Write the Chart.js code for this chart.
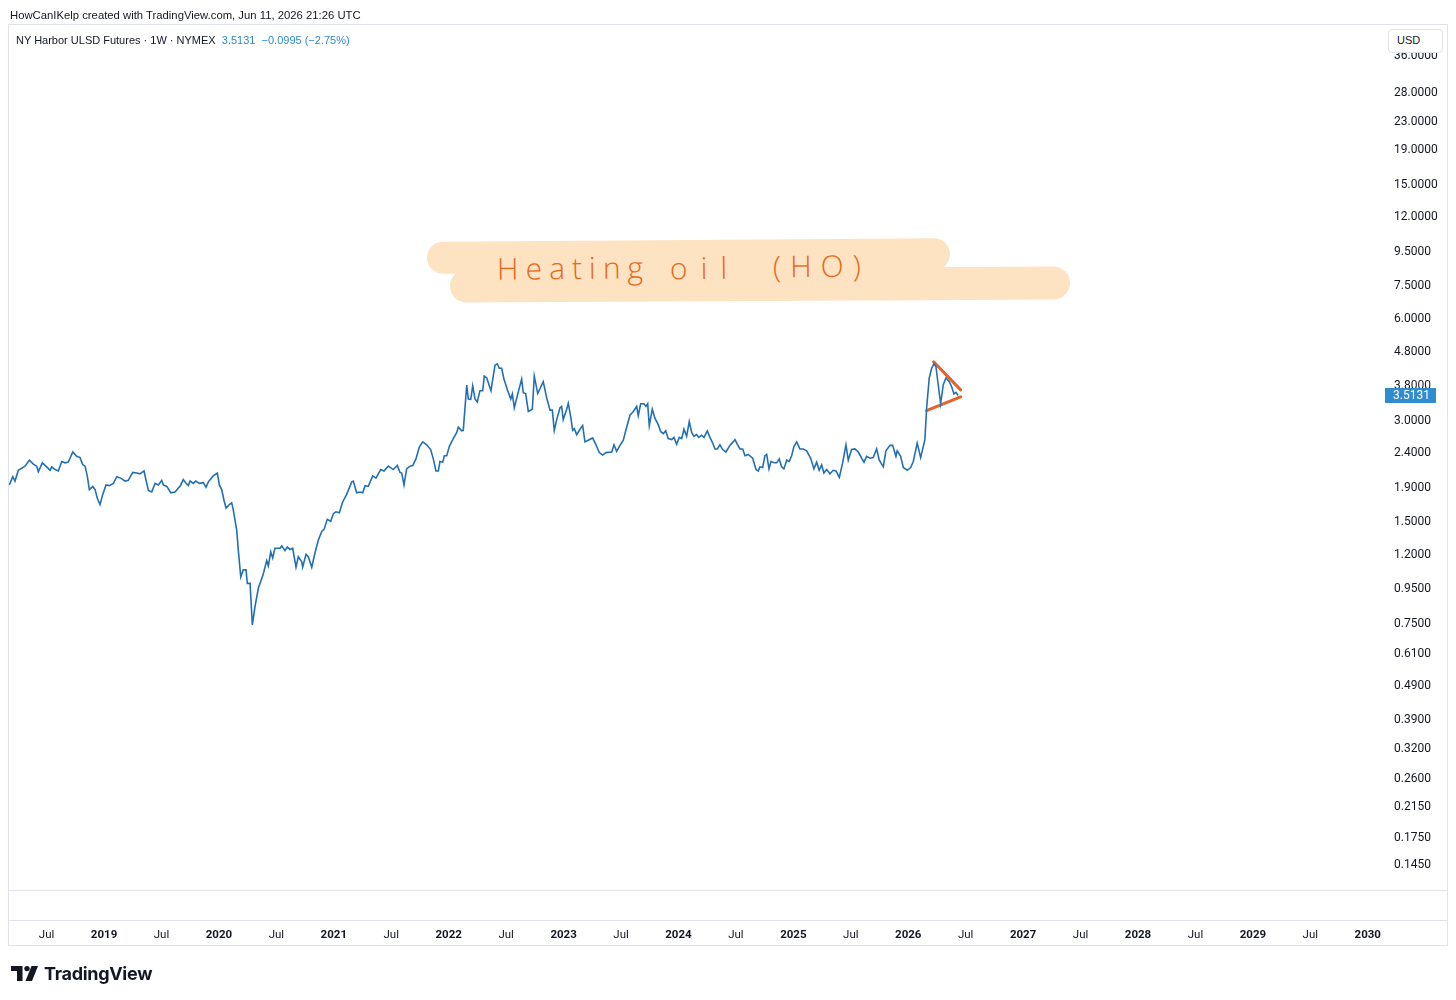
<!DOCTYPE html>
<html>
<head>
<meta charset="utf-8">
<script src="https://cdn.jsdelivr.net/npm/chart.js@4/dist/chart.umd.min.js"></script>
<style>
  html, body { margin:0; padding:0; background:#ffffff; }
  #wrap { position:relative; width:1456px; height:1000px; overflow:hidden; font-family:"Liberation Sans", Arial, sans-serif; color:#131722; }
  #frame { position:absolute; left:8px; top:24px; width:1438px; height:920px; border:1px solid #e0e3eb; box-sizing:content-box; }
  .hline { position:absolute; left:8px; width:1440px; height:1px; background:#e0e3eb; }
  #c { position:absolute; left:0; top:0; }
  #credit { position:absolute; left:10px; top:9px; font-size:11.3px; white-space:nowrap; }
  #title { position:absolute; left:16px; top:34px; font-size:11px; white-space:nowrap; }
  #title .q { color:#2f8bcc; }
  #usd { position:absolute; left:1388px; top:29px; width:55px; height:24px; background:#fff; border:1px solid #e0e3eb; border-radius:4px; font-size:11px; line-height:20px; padding-left:8px; box-sizing:border-box; }
  .hl { position:absolute; background:#fde3c1; border-radius:17px; }
  .note { position:absolute; top:247px; font-family:"Open Sans", sans-serif; font-weight:300; font-size:30px; color:#e8691c; white-space:nowrap; transform:rotate(-0.6deg); }
  #logo { position:absolute; left:11px; top:962px; height:22px; display:flex; align-items:center; }
  #logo span { font-family:"Inter", "Roboto", sans-serif; font-weight:700; font-size:18px; letter-spacing:-0.3px; margin-left:5px; color:#131722; }
</style>
</head>
<body>
<div id="wrap">
  <div id="frame"></div>
  <div class="hline" style="top:890px"></div>
  <div class="hline" style="top:920px"></div>
  <div class="hl" style="left:427px; top:240px; width:523px; height:32px; transform:rotate(-0.4deg);"></div>
  <div class="hl" style="left:450px; top:268px; width:620px; height:33px; transform:rotate(-0.3deg);"></div>
  <div class="note" style="left:497px; letter-spacing:7px;">Heating</div>
  <div class="note" style="left:670px; letter-spacing:13px;">oil</div>
  <div class="note" style="left:773px; letter-spacing:9px; top:245px;">(HO)</div>
  <canvas id="c" width="1456" height="1000"></canvas>
  <div id="credit">HowCanIKelp created with TradingView.com, Jun 11, 2026 21:26 UTC</div>
  <div id="title">NY Harbor ULSD Futures · 1W · NYMEX&nbsp; <span class="q">3.5131&nbsp; −0.0995 (−2.75%)</span></div>
  <div id="usd">USD</div>
  <div id="logo">
    <svg width="28" height="17" viewBox="0 0 28 17">
      <rect x="0" y="1" width="11" height="5" fill="#131722"/>
      <rect x="6" y="1" width="5.5" height="15" fill="#131722"/>
      <circle cx="16" cy="3.6" r="2.7" fill="#131722"/>
      <polygon points="20.5,1 27,1 21,16 14.5,16" fill="#131722"/>
    </svg>
    <span>TradingView</span>
  </div>
</div>
<script>
const times = [
2018.176,2018.205,2018.225,2018.254,2018.312,2018.350,2018.385,2018.414,2018.428,2018.463,
2018.501,2018.530,2018.545,2018.574,2018.602,2018.632,2018.661,2018.689,2018.728,2018.762,
2018.791,2018.815,2018.835,2018.855,2018.872,2018.902,2018.922,2018.942,2018.965,2018.989,
2019.017,2019.046,2019.081,2019.111,2019.145,2019.183,2019.211,2019.250,2019.285,2019.313,
2019.348,2019.366,2019.386,2019.415,2019.444,2019.473,2019.502,2019.516,2019.546,2019.581,
2019.618,2019.647,2019.661,2019.690,2019.714,2019.734,2019.749,2019.777,2019.798,2019.829,
2019.864,2019.888,2019.908,2019.951,2019.986,2020.004,2020.024,2020.044,2020.062,2020.091,
2020.111,2020.125,2020.155,2020.169,2020.190,2020.212,2020.236,2020.247,2020.271,2020.291,
2020.314,2020.343,2020.386,2020.416,2020.430,2020.451,2020.468,2020.488,2020.532,2020.547,
2020.575,2020.595,2020.619,2020.642,2020.671,2020.691,2020.721,2020.729,2020.758,2020.778,
2020.808,2020.836,2020.865,2020.895,2020.915,2020.943,2020.973,2020.996,2021.019,2021.048,
2021.077,2021.112,2021.156,2021.170,2021.199,2021.228,2021.252,2021.272,2021.300,2021.339,
2021.367,2021.408,2021.437,2021.474,2021.518,2021.553,2021.576,2021.591,2021.611,2021.634,
2021.663,2021.687,2021.715,2021.744,2021.774,2021.809,2021.843,2021.866,2021.889,2021.910,
2021.924,2021.948,2021.962,2021.983,2022.005,2022.040,2022.070,2022.084,2022.113,2022.127,
2022.157,2022.171,2022.192,2022.209,2022.229,2022.249,2022.272,2022.296,2022.310,2022.331,
2022.368,2022.403,2022.423,2022.440,2022.461,2022.481,2022.510,2022.540,2022.554,2022.571,
2022.606,2022.635,2022.649,2022.670,2022.693,2022.728,2022.745,2022.775,2022.823,2022.853,
2022.882,2022.902,2022.919,2022.940,2022.969,2022.983,2022.997,2023.027,2023.041,2023.062,
2023.079,2023.093,2023.114,2023.143,2023.166,2023.186,2023.206,2023.253,2023.282,2023.311,
2023.340,2023.369,2023.419,2023.439,2023.462,2023.491,2023.520,2023.549,2023.578,2023.607,
2023.636,2023.650,2023.671,2023.700,2023.717,2023.732,2023.746,2023.772,2023.795,2023.824,
2023.845,2023.868,2023.889,2023.911,2023.941,2023.961,2023.984,2024.007,2024.028,2024.048,
2024.071,2024.094,2024.115,2024.135,2024.158,2024.178,2024.202,2024.222,2024.251,2024.274,
2024.298,2024.318,2024.338,2024.361,2024.385,2024.413,2024.448,2024.492,2024.512,2024.535,
2024.559,2024.579,2024.607,2024.646,2024.675,2024.695,2024.709,2024.733,2024.753,2024.768,
2024.788,2024.805,2024.834,2024.855,2024.877,2024.898,2024.918,2024.942,2024.964,2024.985,
2025.005,2025.029,2025.057,2025.086,2025.116,2025.151,2025.179,2025.203,2025.225,2025.246,
2025.266,2025.290,2025.319,2025.347,2025.371,2025.400,2025.429,2025.458,2025.478,2025.507,
2025.536,2025.565,2025.595,2025.615,2025.638,2025.667,2025.695,2025.725,2025.748,2025.783,
2025.806,2025.841,2025.864,2025.893,2025.904,2025.934,2025.957,2025.991,2026.021,2026.044,
2026.078,2026.108,2026.145,2026.160,2026.183,2026.204,2026.224,2026.241,2026.261,2026.282,
2026.305,2026.328,2026.357,2026.378,2026.398,2026.415,2026.435
];
const prices = [
1.91,2.02,1.96,2.11,2.17,2.26,2.20,2.17,2.09,2.22,
2.16,2.11,2.16,2.12,2.10,2.24,2.22,2.23,2.39,2.32,
2.30,2.19,2.17,2.02,1.85,1.89,1.85,1.74,1.67,1.79,
1.91,1.90,1.93,2.02,2.00,1.96,1.97,2.08,2.07,2.06,
2.10,1.97,1.84,1.82,1.93,1.91,1.97,1.91,1.89,1.81,
1.82,1.87,1.89,1.98,1.93,1.90,1.96,1.93,1.96,1.93,
1.94,1.88,1.95,2.03,2.07,1.91,1.85,1.72,1.63,1.67,
1.69,1.61,1.40,1.22,1.02,1.07,1.07,0.976,0.976,0.735,
0.833,0.944,1.04,1.14,1.10,1.21,1.16,1.24,1.24,1.26,
1.22,1.25,1.23,1.24,1.09,1.17,1.13,1.09,1.19,1.17,
1.09,1.20,1.31,1.39,1.41,1.51,1.49,1.57,1.59,1.58,
1.70,1.79,1.95,1.96,1.81,1.82,1.81,1.90,1.89,2.03,
2.00,2.12,2.10,2.17,2.12,2.18,2.08,2.07,1.91,2.13,
2.17,2.18,2.28,2.47,2.56,2.51,2.43,2.28,2.10,2.10,
2.24,2.23,2.33,2.33,2.48,2.62,2.73,2.83,2.76,2.77,
3.77,3.43,3.42,3.75,3.43,3.36,3.63,3.63,4.01,3.96,
3.63,4.32,4.36,4.23,4.23,3.93,3.66,3.43,3.55,3.23,
3.60,3.93,3.58,3.56,3.15,3.20,4.01,3.56,3.86,3.46,
3.18,3.18,2.77,2.98,3.23,3.26,2.98,3.20,3.33,3.04,
2.77,2.80,2.69,2.79,2.86,2.56,2.58,2.63,2.51,2.38,
2.34,2.38,2.39,2.51,2.40,2.50,2.59,2.83,3.07,3.15,
3.26,3.06,3.32,3.32,3.26,3.32,2.86,3.20,3.01,2.88,
2.75,2.71,2.76,2.62,2.60,2.64,2.52,2.64,2.62,2.79,
2.66,2.94,2.73,2.66,2.69,2.64,2.68,2.64,2.76,2.64,
2.54,2.44,2.44,2.51,2.43,2.39,2.50,2.60,2.52,2.44,
2.44,2.33,2.35,2.29,2.12,2.10,2.16,2.15,2.33,2.35,
2.13,2.24,2.22,2.22,2.28,2.16,2.13,2.26,2.24,2.33,
2.48,2.56,2.44,2.44,2.41,2.29,2.13,2.23,2.11,2.19,
2.07,2.12,2.06,2.11,2.10,2.01,2.22,2.51,2.26,2.43,
2.44,2.39,2.29,2.23,2.32,2.29,2.30,2.44,2.26,2.16,
2.41,2.50,2.50,2.32,2.41,2.32,2.15,2.11,2.15,2.24,
2.54,2.30,2.60,3.22,3.96,4.23,4.36,4.28,3.78,3.32,
3.78,3.96,3.86,3.73,3.55,3.59,3.5131
];
// hand-drawn triangle (symmetrical pennant) lines
const upperTrendTimes = [2026.221, 2026.456];
const upperTrendPrices = [4.42, 3.65];
const lowerTrendTimes = [2026.160, 2026.456];
const lowerTrendPrices = [3.17, 3.48];

const priceTicks = [0.145,0.175,0.215,0.26,0.32,0.39,0.49,0.61,0.75,0.95,1.2,1.5,1.9,2.4,3.0,3.8,4.8,6.0,7.5,9.5,12,15,19,23,28,36];
const timeTickValues = [2018.5,2019,2019.5,2020,2020.5,2021,2021.5,2022,2022.5,2023,2023.5,2024,2024.5,2025,2025.5,2026,2026.5,2027,2027.5,2028,2028.5,2029,2029.5,2030];
const timeTickLabels = ['Jul','2019','Jul','2020','Jul','2021','Jul','2022','Jul','2023','Jul','2024','Jul','2025','Jul','2026','Jul','2027','Jul','2028','Jul','2029','Jul','2030'];
const lastPrice = 3.5131;

const xMin = 2018.164, xMax = 2030.15;
const yMin = 0.1207, yMax = 43.9;

const pts = (xs, ys) => xs.map((x, i) => ({x: x, y: ys[i]}));

const priceLabelPlugin = {
  id: 'priceLabel',
  afterDraw(chart) {
    const y = chart.scales.y;
    const ctx = chart.ctx;
    const py = Math.round(y.getPixelForValue(lastPrice));
    ctx.save();
    ctx.fillStyle = '#2f8dcf';
    ctx.fillRect(y.left, py - 7, 51, 15);
    ctx.fillStyle = '#ffffff';
    ctx.font = '12px Roboto, "Liberation Sans", sans-serif';
    ctx.textBaseline = 'middle';
    ctx.textAlign = 'left';
    ctx.fillText(lastPrice.toFixed(4), y.left + 8, py + 1);
    ctx.restore();
  }
};

new Chart(document.getElementById('c'), {
  type: 'line',
  data: {
    datasets: [
      { data: pts(times, prices), borderColor: '#2270b4', borderWidth: 1.6, pointRadius: 0, tension: 0, fill: false },
      { data: pts(upperTrendTimes, upperTrendPrices), borderColor: '#e8602a', borderWidth: 3, pointRadius: 0, borderCapStyle: 'round', fill: false },
      { data: pts(lowerTrendTimes, lowerTrendPrices), borderColor: '#e8602a', borderWidth: 3, pointRadius: 0, borderCapStyle: 'round', fill: false }
    ]
  },
  options: {
    responsive: false,
    animation: false,
    devicePixelRatio: 1,
    layout: { padding: { left: 8, top: 25, right: 9, bottom: 0 } },
    plugins: { legend: { display: false }, tooltip: { enabled: false } },
    events: [],
    scales: {
      x: {
        type: 'linear',
        position: 'bottom',
        min: xMin, max: xMax,
        grid: { display: false, drawTicks: false },
        border: { display: false },
        afterBuildTicks: (s) => { s.ticks = timeTickValues.map(v => ({ value: v })); },
        afterFit: (s) => { s.height = 110; },
        ticks: {
          autoSkip: false, maxRotation: 0, minRotation: 0, padding: 38,
          color: '#131722',
          font: (c) => ({ family: 'Roboto, "Liberation Sans", sans-serif', size: 11.5, weight: (c.tick && Number.isInteger(c.tick.value)) ? 'bold' : 'normal' }),
          callback: (v) => { const i = timeTickValues.indexOf(v); return i >= 0 ? timeTickLabels[i] : ''; }
        }
      },
      y: {
        type: 'logarithmic',
        position: 'right',
        min: yMin, max: yMax,
        grid: { display: false, drawTicks: false },
        border: { display: false },
        afterBuildTicks: (s) => { s.ticks = priceTicks.map(v => ({ value: v })); },
        afterFit: (s) => { s.width = 62; },
        ticks: {
          autoSkip: false, padding: 9, labelOffset: 2, color: '#131722',
          font: { family: 'Roboto, "Liberation Sans", sans-serif', size: 12 },
          callback: (v) => Number(v).toFixed(4)
        }
      }
    }
  },
  plugins: [priceLabelPlugin]
});
</script>
</body>
</html>
